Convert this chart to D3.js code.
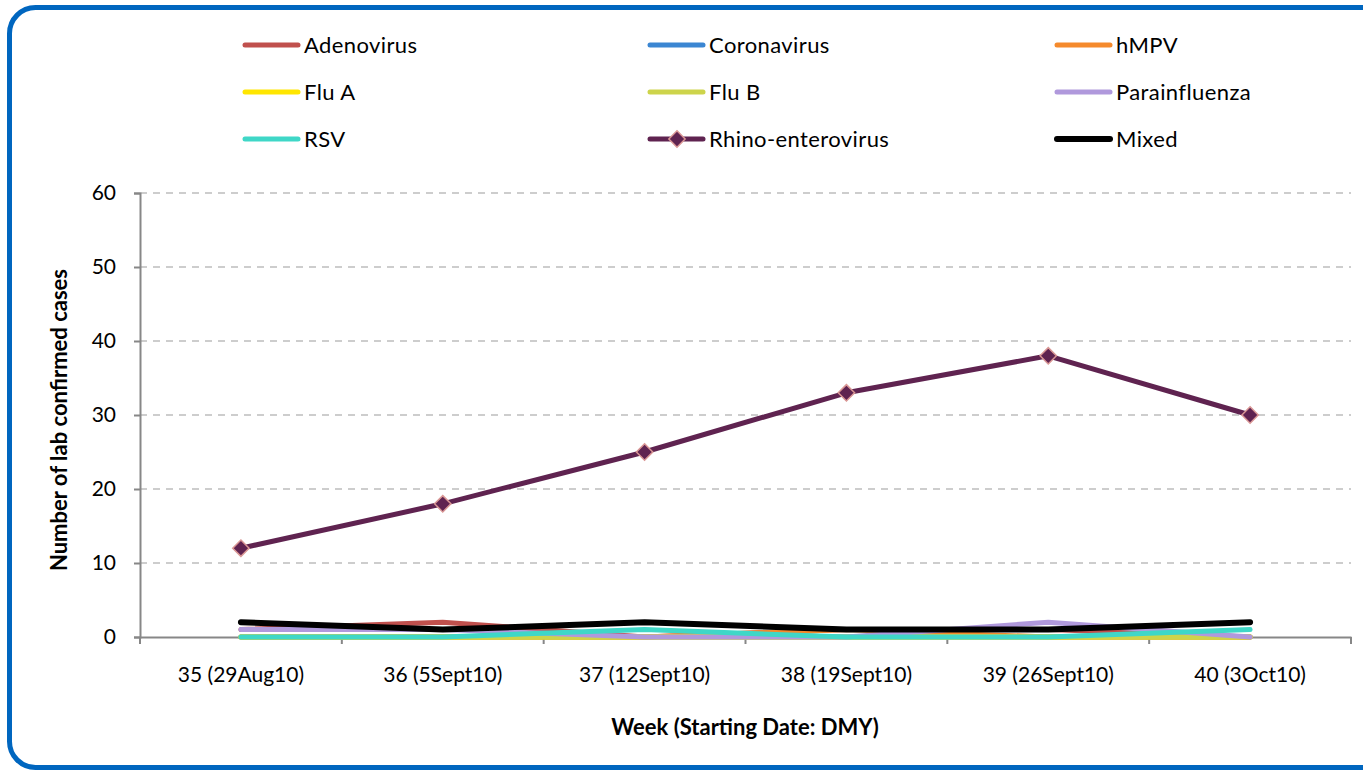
<!DOCTYPE html>
<html>
<head>
<meta charset="utf-8">
<script src="https://cdn.jsdelivr.net/npm/d3@7"></script>
<style>
  body { margin: 0; background: #fff; }
  text { font-family: Lato, "Open Sans", sans-serif; fill: #000; }
</style>
</head>
<body>
<script>
// Chart size and plot area
let width = 1363;
let height = 772;
let plotLeft = 140;
let plotRight = 1351;
let plotTop = 193;
let plotBottom = 637;

// Categories along the x axis
var weeks = ['35 (29Aug10)', '36 (5Sept10)', '37 (12Sept10)', '38 (19Sept10)', '39 (26Sept10)', '40 (3Oct10)'];
var yTicks = [0, 10, 20, 30, 40, 50, 60];

// Series names, colours and values
var seriesNames = ['Adenovirus', 'Coronavirus', 'hMPV', 'Flu A', 'Flu B', 'Parainfluenza', 'RSV', 'Rhino-enterovirus', 'Mixed'];
var seriesColors = ['#C0504D', '#3B86D2', '#F58A2C', '#FFE600', '#CDD44B', '#B099DC', '#3FD7C7', '#5F2350', '#000000'];

var adenovirus = [1, 2, 0, 1, 1, 0];
var coronavirus = [0, 0, 0, 0, 0, 0];
var hmpv = [0, 0, 0, 1, 0, 0];
var fluA = [0, 0, 0, 0, 0, 0];
var fluB = [0, 0, 0, 0, 0, 0];
var parainfluenza = [1, 1, 0, 0, 2, 0];
var rsv = [0, 0, 1, 0, 0, 1];
var rhino = [12, 18, 25, 33, 38, 30];
var mixed = [2, 1, 2, 1, 1, 2];

var seriesValues = [adenovirus, coronavirus, hmpv, fluA, fluB, parainfluenza, rsv, rhino, mixed];

var svg = d3.select('body')
            .append('svg')
            .attr('width', width)
            .attr('height', height);

// Rounded blue frame round the chart
svg.append('rect')
   .attr('x', 9.5).attr('y', 7.5)
   .attr('width', 1380).attr('height', 760)
   .attr('rx', 26).attr('ry', 26)
   .attr('fill', '#fff')
   .attr('stroke', '#0066BF')
   .attr('stroke-width', 5);

// Scales
var x = d3.scaleBand().domain(weeks).range([plotLeft, plotRight]);
var y = d3.scaleLinear().domain([0, 60]).range([plotBottom, plotTop]);

function xMid(d) { return x(d) + x.bandwidth() / 2; }

// Dashed horizontal gridlines
svg.append('g')
   .selectAll('line')
   .data(yTicks.filter(function(t) { return t > 0; }))
   .join('line')
   .attr('x1', plotLeft).attr('x2', plotRight)
   .attr('y1', function(d) { return y(d); })
   .attr('y2', function(d) { return y(d); })
   .attr('stroke', '#BDBDBD')
   .attr('stroke-width', 1.5)
   .attr('stroke-dasharray', '7,6');

// Y axis
var yAxis = svg.append('g')
   .attr('transform', 'translate(' + plotLeft + ',0)')
   .call(d3.axisLeft(y).tickValues(yTicks).tickSize(6).tickPadding(18));
yAxis.select('.domain').attr('stroke', '#878787').attr('stroke-width', 2);
yAxis.selectAll('.tick line').attr('stroke', '#878787').attr('stroke-width', 2);
yAxis.selectAll('.tick text').style('font-size', '21px').attr('fill', '#000');

// X axis, ticks at the category boundaries
var xAxis = svg.append('g')
   .attr('transform', 'translate(0,' + plotBottom + ')')
   .call(d3.axisBottom(x).tickSize(0).tickPadding(30));
xAxis.select('.domain').attr('stroke', '#878787').attr('stroke-width', 2);
xAxis.selectAll('.tick text').style('font-size', '21px').attr('fill', '#000');

var boundaries = weeks.map(function(d) { return x(d); }).concat([plotRight]);
svg.append('g')
   .selectAll('line')
   .data(boundaries)
   .join('line')
   .attr('x1', function(d) { return d; })
   .attr('x2', function(d) { return d; })
   .attr('y1', plotBottom)
   .attr('y2', plotBottom + 7)
   .attr('stroke', '#878787')
   .attr('stroke-width', 2);

// Axis titles
svg.append('text')
   .attr('x', 745).attr('y', 735)
   .attr('text-anchor', 'middle')
   .style('font-size', '22px').style('font-weight', 'bold')
   .text('Week (Starting Date: DMY)');

svg.append('text')
   .attr('transform', 'translate(67,420) rotate(-90)')
   .attr('text-anchor', 'middle')
   .style('font-size', '22px').style('font-weight', 'bold')
   .text('Number of lab confirmed cases');

// Data lines
var line = d3.line()
   .x(function(d, i) { return xMid(weeks[i]); })
   .y(function(d) { return y(d); });

seriesValues.forEach(function(values, k) {
  svg.append('path')
     .datum(values)
     .attr('d', line)
     .attr('fill', 'none')
     .attr('stroke', seriesColors[k])
     .attr('stroke-width', k == 8 ? 6 : 5)
     .attr('stroke-linejoin', 'round')
     .attr('stroke-linecap', 'round');
});

// Diamond markers for Rhino-enterovirus
var diamond = d3.symbol().type(d3.symbolDiamond2).size(170);
svg.append('g')
   .selectAll('path')
   .data(rhino)
   .join('path')
   .attr('d', diamond)
   .attr('transform', function(d, i) { return 'translate(' + xMid(weeks[i]) + ',' + y(d) + ')'; })
   .attr('fill', '#5F2350')
   .attr('stroke', '#D99694')
   .attr('stroke-width', 1.5);

// Legend, three columns
var legendCols = [245, 650, 1057];
var legendRows = [45, 92, 139];

seriesNames.forEach(function(name, k) {
  let lx = legendCols[k % 3];
  let ly = legendRows[Math.floor(k / 3)];
  svg.append('line')
     .attr('x1', lx).attr('x2', lx + 53)
     .attr('y1', ly).attr('y2', ly)
     .attr('stroke', seriesColors[k])
     .attr('stroke-width', k == 8 ? 6 : 5)
     .attr('stroke-linecap', 'round');
  if (name == 'Rhino-enterovirus') {
    svg.append('path')
       .attr('d', diamond)
       .attr('transform', 'translate(' + (lx + 27) + ',' + ly + ')')
       .attr('fill', '#5F2350')
       .attr('stroke', '#D99694')
       .attr('stroke-width', 1.5);
  }
  svg.append('text')
     .attr('x', lx + 59).attr('y', ly)
     .attr('dy', '.35em')
     .style('font-size', '22px')
     .style('letter-spacing', '0.4px')
     .text(name);
});
</script>
</body>
</html>
